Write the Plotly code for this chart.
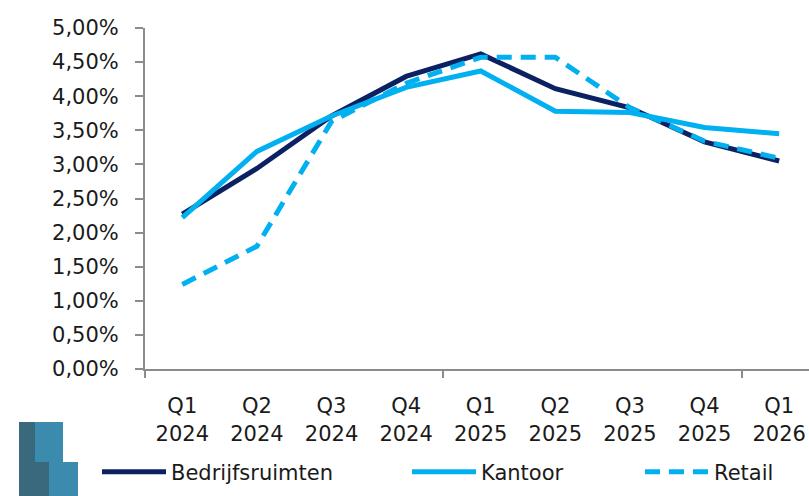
import plotly.graph_objects as go

categories = ["Q1<br>2024", "Q2<br>2024", "Q3<br>2024", "Q4<br>2024",
              "Q1<br>2025", "Q2<br>2025", "Q3<br>2025", "Q4<br>2025", "Q1<br>2026"]
bedrijfsruimten = [2.27, 2.94, 3.71, 4.29, 4.62, 4.11, 3.83, 3.33, 3.05]
kantoor = [2.22, 3.19, 3.71, 4.13, 4.37, 3.78, 3.76, 3.54, 3.45]
retail = [1.24, 1.80, 3.63, 4.19, 4.57, 4.57, 3.83, 3.34, 3.09]
y_ticks = [0, 0.5, 1.0, 1.5, 2.0, 2.5, 3.0, 3.5, 4.0, 4.5, 5.0]

x = list(range(len(categories)))
FONT = "DejaVu Sans"
FS = 21
TXT = "#1a1a1a"
DARK = "#0b2161"
LIGHT = "#00b0f0"
AXIS = "#8c8c8c"

fig = go.Figure()
fig.add_trace(go.Scatter(x=x, y=[v / 100 for v in bedrijfsruimten], name="Bedrijfsruimten",
                         mode="lines", line=dict(color=DARK, width=5), legend="legend"))
fig.add_trace(go.Scatter(x=x, y=[v / 100 for v in kantoor], name="Kantoor",
                         mode="lines", line=dict(color=LIGHT, width=5), legend="legend2"))
fig.add_trace(go.Scatter(x=x, y=[v / 100 for v in retail], name="Retail",
                         mode="lines", line=dict(color=LIGHT, width=5, dash="15px,9px"),
                         legend="legend3"))

W, H = 809, 496
ml, mr, mt, mb = 145, 0, 28, H - 369

def px(xs):
    return (xs - ml) / (W - ml - mr)

def py(ys):
    return (H - mb - ys) / (H - mt - mb)

shapes = []
logo = [
    (19, 422, 35, 462, "#3a687d"),
    (35, 422, 63, 462, "#3a8bad"),
    (19, 462, 49, 496, "#3a687d"),
    (49, 462, 78, 496, "#3a8bad"),
]
for x0, y0, x1, y1, c in logo:
    shapes.append(dict(type="rect", xref="paper", yref="paper",
                       x0=px(x0), x1=px(x1), y0=py(y1), y1=py(y0),
                       fillcolor=c, line=dict(width=0), layer="above"))

def leg(xs):
    return dict(orientation="h", x=px(xs), y=py(472), xanchor="left", yanchor="middle",
                xref="paper", yref="paper", itemwidth=64,
                font=dict(family=FONT, size=FS, color=TXT),
                bgcolor="rgba(0,0,0,0)")

fig.update_layout(
    width=W, height=H,
    margin=dict(l=ml, r=mr, t=mt, b=mb, autoexpand=False),
    paper_bgcolor="white", plot_bgcolor="white",
    separators=",.",
    font=dict(family=FONT, size=FS, color=TXT),
    showlegend=True,
    legend=leg(97),
    legend2=leg(407),
    legend3=leg(640),
    xaxis=dict(range=[-0.5, 8.4], tickmode="array", tickvals=x, ticktext=categories,
               ticks="", showgrid=False, zeroline=False, automargin=False,
               showline=True, linecolor=AXIS, linewidth=2,
               ticklabelstandoff=17, ticklabeloverflow="allow",
               tickfont=dict(family=FONT, size=FS, color=TXT),
               minor=dict(tickmode="array", tickvals=[-0.5, 3.5, 7.5], ticks="outside",
                          ticklen=7, tickwidth=2, tickcolor=AXIS, showgrid=False)),
    yaxis=dict(range=[0, 0.05], tickmode="array", tickvals=[v / 100 for v in y_ticks],
               tickformat=".2%", ticks="outside", ticklen=8, tickwidth=2, tickcolor=AXIS,
               showgrid=False, zeroline=False, showline=True, linecolor=AXIS, linewidth=2,
               ticklabelstandoff=12, automargin=False,
               tickfont=dict(family=FONT, size=FS, color=TXT)),
    shapes=shapes,
)

fig.write_html("out.html",
               config={"displayModeBar": False},
               post_script="document.body.style.margin='0';document.body.style.overflow='hidden';")
